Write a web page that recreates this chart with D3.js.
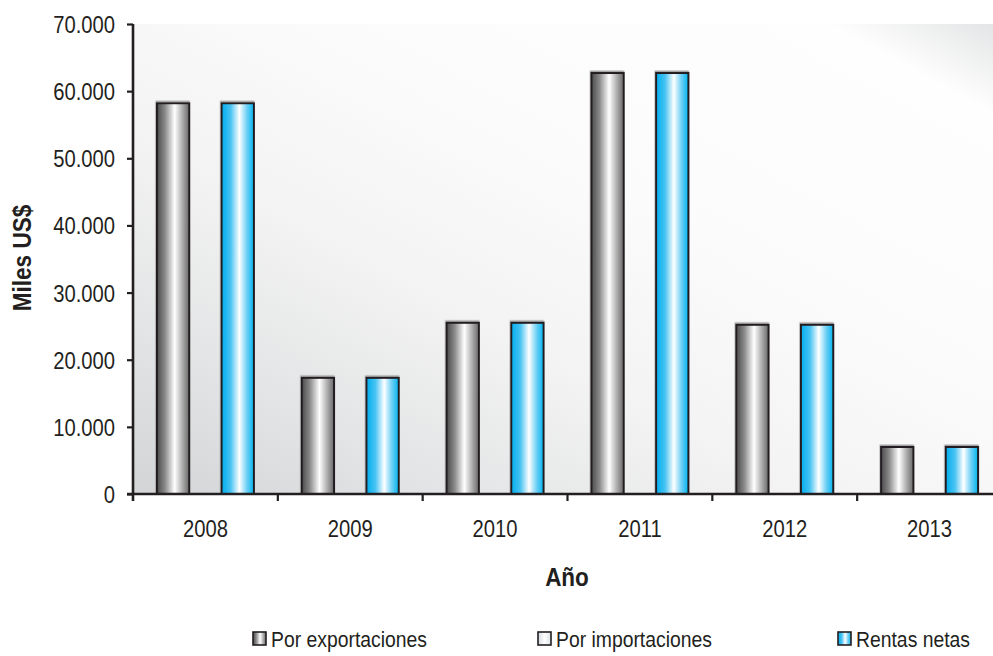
<!DOCTYPE html>
<html>
<head>
<meta charset="utf-8">
<script src="https://cdn.jsdelivr.net/npm/d3@7"></script>
<style>
  html, body { margin: 0; padding: 0; background: #ffffff; }
  svg { display: block; font-family: "Liberation Sans", Arial, Helvetica, sans-serif; }
</style>
</head>
<body>
<svg id="chart" width="993" height="656"></svg>
<script>
// Años y series (miles de US$)
const years = ["2008", "2009", "2010", "2011", "2012", "2013"];
const seriesNames = ["Por exportaciones", "Por importaciones", "Rentas netas"];
const exportaciones = [58200, 17300, 25500, 62700, 25200, 7000];
const importaciones = [0, 0, 0, 0, 0, 0];
const rentasNetas = [58200, 17300, 25500, 62700, 25200, 7000];
const yTicks = [0, 10000, 20000, 30000, 40000, 50000, 60000, 70000];

const seriesValues = [exportaciones, importaciones, rentasNetas];
const gradIds = ["gGris", "gClaro", "gAzul"];

const svg = d3.select("#chart");
const W = 993, H = 656;
const plot = { left: 133, top: 24, bottom: 494, right: 1002 };

const defs = svg.append("defs");

// Fondo del área de trazado: degradado diagonal gris → blanco
const bg = defs.append("linearGradient").attr("id", "gFondo")
  .attr("x1", 0).attr("y1", 1).attr("x2", 1).attr("y2", 0);
[[0, "#d3d4d5"], [0.18, "#e3e4e5"], [0.38, "#f3f3f3"], [0.6, "#fbfbfb"], [0.9, "#fefefe"], [1, "#e2e3e4"]]
  .forEach(([o, c]) => bg.append("stop").attr("offset", o).attr("stop-color", c));

// Degradados cilíndricos de las barras
function cyl(id, stops) {
  const g = defs.append("linearGradient").attr("id", id)
    .attr("x1", 0).attr("y1", 0).attr("x2", 1).attr("y2", 0);
  stops.forEach(([o, c]) => g.append("stop").attr("offset", o).attr("stop-color", c));
}
cyl("gGris", [[0, "#4a4a4a"], [0.25, "#8a8a8a"], [0.55, "#ffffff"], [0.78, "#b0b0b0"], [1, "#686868"]]);
cyl("gClaro", [[0, "#d3dae1"], [0.5, "#ffffff"], [1, "#dce3e9"]]);
cyl("gAzul", [[0, "#00aeef"], [0.28, "#48c3f2"], [0.55, "#ffffff"], [0.78, "#6fd0f5"], [1, "#00b3ef"]]);

// Sombra suave hacia arriba
const sh = defs.append("filter").attr("id", "sombra")
  .attr("x", "-10%").attr("y", "-10%").attr("width", "120%").attr("height", "120%");
sh.append("feDropShadow").attr("dx", -0.5).attr("dy", -1.5)
  .attr("stdDeviation", 0.4).attr("flood-color", "#9a9a9a").attr("flood-opacity", 0.9);

// Escalas
const x = d3.scaleBand().domain(years).range([plot.left, plot.right]).padding(0);
const step = x.step();
const xs = d3.scaleBand().domain(d3.range(seriesNames.length))
  .range([0.165 * step, 0.835 * step]).padding(0);
const y = d3.scaleLinear().domain([0, 70000]).range([plot.bottom, plot.top]);

const fmt = d3.formatLocale({ decimal: ",", thousands: ".", grouping: [3], currency: ["", ""] }).format(",d");

// Texto estrecho: fuente grande comprimida horizontalmente
function condense(sel, k) {
  sel.each(function () {
    const len = this.getComputedTextLength();
    d3.select(this).attr("textLength", len * k).attr("lengthAdjust", "spacingAndGlyphs");
  });
}

// Fondo
svg.append("rect")
  .attr("x", plot.left).attr("y", plot.top)
  .attr("width", plot.right - plot.left).attr("height", plot.bottom - plot.top)
  .attr("fill", "url(#gFondo)");

// Barras
const groups = svg.append("g").selectAll("g")
  .data(years).join("g")
  .attr("transform", d => `translate(${x(d)},0)`);

groups.selectAll("rect")
  .data((d, i) => seriesValues.map((vals, s) => ({ s, v: vals[i] })))
  .join("rect")
  .filter(d => d.v > 0)
  .attr("x", d => xs(d.s))
  .attr("y", d => y(d.v))
  .attr("width", xs.bandwidth())
  .attr("height", d => y(0) - y(d.v))
  .attr("fill", d => `url(#${gradIds[d.s]})`)
  .attr("stroke", "#231f20")
  .attr("stroke-width", 2)
  .attr("filter", "url(#sombra)");

// Eje Y
const yAxis = d3.axisLeft(y).tickValues(yTicks).tickFormat(fmt).tickSize(6).tickPadding(12);
const gy = svg.append("g").attr("transform", `translate(${plot.left},0)`).call(yAxis);
gy.select(".domain").remove();
gy.selectAll(".tick line").attr("stroke", "#231f20").attr("stroke-width", 2.2);
gy.selectAll(".tick text").attr("fill", "#231f20").attr("dy", "0.36em").style("font-size", "23.5px")
  .style("font-family", "'Liberation Sans', Arial, sans-serif")
  .call(condense, 0.86);

// Eje X
const xAxis = d3.axisBottom(x).tickSize(0).tickPadding(26);
const gx = svg.append("g").attr("transform", `translate(0,${plot.bottom})`).call(xAxis);
gx.select(".domain").remove();
gx.selectAll(".tick text").attr("fill", "#231f20").style("font-size", "23.5px")
  .style("font-family", "'Liberation Sans', Arial, sans-serif")
  .call(condense, 0.86);
// marcas entre categorías
svg.append("g").selectAll("line")
  .data(years.slice(1)).join("line")
  .attr("x1", d => x(d)).attr("x2", d => x(d))
  .attr("y1", plot.bottom).attr("y2", plot.bottom + 7)
  .attr("stroke", "#231f20").attr("stroke-width", 2.2);

// Marco: línea superior, eje izquierdo y línea base
svg.append("line")
  .attr("x1", plot.left - 6).attr("x2", W).attr("y1", plot.top).attr("y2", plot.top)
  .attr("stroke", "#231f20").attr("stroke-width", 3).attr("filter", "url(#sombra)");
svg.append("line")
  .attr("x1", plot.left).attr("x2", plot.left).attr("y1", plot.top).attr("y2", plot.bottom + 7)
  .attr("stroke", "#231f20").attr("stroke-width", 2.6);
svg.append("line")
  .attr("x1", plot.left - 6).attr("x2", W).attr("y1", plot.bottom).attr("y2", plot.bottom)
  .attr("stroke", "#231f20").attr("stroke-width", 2.6);

// Títulos de ejes
svg.append("text")
  .attr("transform", `translate(31,258) rotate(-90)`)
  .attr("text-anchor", "middle")
  .attr("fill", "#231f20")
  .style("font-size", "25px").style("font-weight", "bold")
  .text("Miles US$")
  .call(condense, 0.9);
svg.append("text")
  .attr("x", 567).attr("y", 586)
  .attr("text-anchor", "middle")
  .attr("fill", "#231f20")
  .style("font-size", "25px").style("font-weight", "bold")
  .text("Año")
  .call(condense, 0.9);

// Leyenda
const legendX = [253, 538, 838];
const leg = svg.append("g").selectAll("g")
  .data(seriesNames).join("g")
  .attr("transform", (d, i) => `translate(${legendX[i]},632)`);
leg.append("rect")
  .attr("width", 13).attr("height", 13)
  .attr("fill", (d, i) => `url(#${gradIds[i]})`)
  .attr("stroke", "#231f20").attr("stroke-width", 1.6);
leg.append("text")
  .attr("x", 18).attr("y", 15)
  .attr("fill", "#231f20")
  .style("font-size", "22.5px")
  .text(d => d)
  .call(condense, 0.86);
</script>
</body>
</html>
